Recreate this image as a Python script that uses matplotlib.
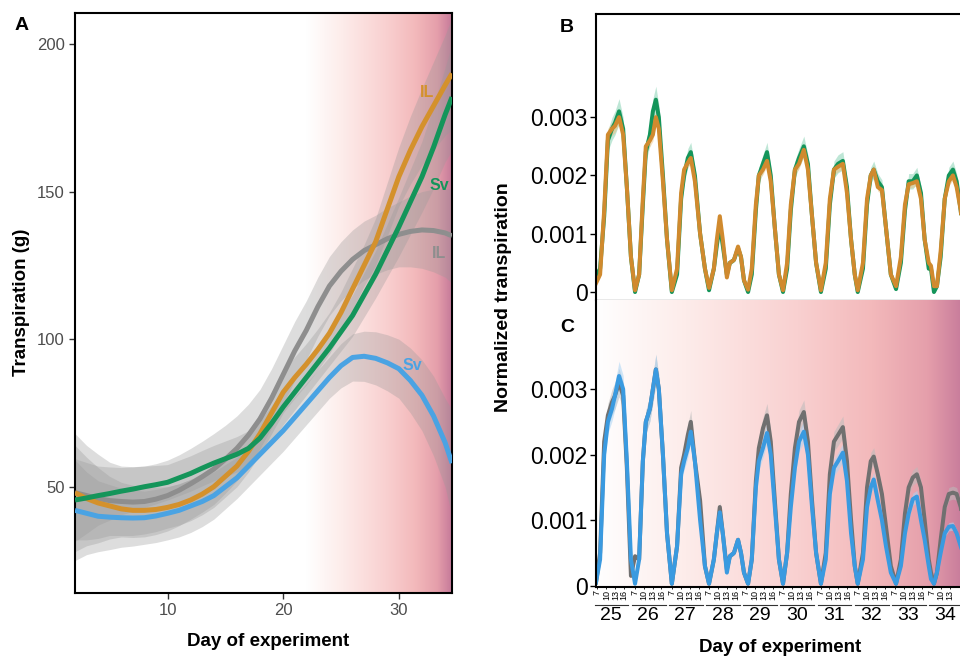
import numpy as np
import matplotlib
matplotlib.use("Agg")
import matplotlib.pyplot as plt
import matplotlib.transforms as mtransforms
from matplotlib.colors import LinearSegmentedColormap

plt.rcParams['font.family'] = ['Liberation Sans', 'DejaVu Sans']

# ---- panel A: smoothed whole-experiment transpiration (g) ----
days_a = [2, 3, 4, 5, 6, 7, 8, 9, 10, 11, 12, 13, 14, 15, 16, 17, 18,
          19, 20, 21, 22, 23, 24, 25, 26, 27, 28, 29, 30, 31, 32, 33, 34, 34.6]
il_orange = [48, 46, 44.5, 43.5, 42.5, 42, 42, 42.3, 43, 44, 45.5, 47.5, 50, 53.5, 57, 62, 68,
             75, 82, 87, 91.5, 96.5, 102, 109, 117, 125, 133, 144, 155, 164, 172, 179, 186, 190]
sv_green = [45.5, 46.2, 47, 47.7, 48.5, 49.2, 50, 50.7, 51.5, 53, 54.5, 56.3, 58, 59.5, 61, 63, 66.5,
            71.5, 77, 82, 87, 92, 97, 102.5, 108, 115, 122, 130, 138, 146.5, 155, 165, 176, 182]
il_grey = [48, 47, 46, 45.3, 45, 44.8, 45, 45.8, 47, 48.8, 51, 53.4, 56, 59.3, 63, 67.5, 73,
           80, 88, 96, 103, 111, 118, 123, 127, 130, 132, 134, 135.5, 136.5, 137, 136.8, 136, 135]
sv_blue = [42, 41, 40, 39.7, 39.5, 39.4, 39.5, 40.1, 41, 42, 43.5, 45, 47, 50, 53, 57, 61,
           65, 69, 73.5, 78, 82.5, 87, 91, 93.8, 94.2, 93.5, 92, 90, 86, 81, 74, 65, 58]
# ribbon half widths
il_orange_se = [16, 14, 12, 10, 9, 8.5, 8, 7.5, 7, 7, 7, 7, 7, 7, 7, 7, 7,
                7, 7, 7, 7, 7, 7, 7, 7, 7, 8, 9, 10, 11.5, 13, 15, 17, 19]
sv_green_se = [14, 12, 10, 9, 8, 7.5, 7, 6.5, 6, 6, 6, 6, 6, 6, 6, 6, 6,
               6, 6, 6, 6, 6, 6, 6.5, 7, 7.5, 8, 9, 10, 11, 12, 14, 16, 18]
il_grey_se = [20, 17, 15, 13, 12, 12, 12, 12, 12, 12, 12, 12, 12, 11.5, 11, 10.5, 10,
              10, 10, 10, 10, 10, 10, 10, 10, 10, 10, 10.5, 11, 12, 13, 14, 15, 16]
sv_blue_se = [17, 14, 12, 11, 10, 9.5, 9, 9, 9, 9, 9, 8.5, 8, 7.5, 7, 7, 7,
              7, 7, 7, 7, 7, 7, 7.5, 8, 8.5, 9, 9.5, 10, 11, 12, 13.5, 15, 18]

# ---- panels B and C: normalized transpiration, days 25-35 ----
t_day = [25.08, 25.19, 25.30, 25.40, 25.51, 25.59, 25.70, 25.81, 25.91, 26.02,
         26.13, 26.24, 26.34, 26.42, 26.53, 26.61, 26.69, 26.77, 26.88, 26.99,
         27.12, 27.26, 27.37, 27.45, 27.55, 27.63, 27.74, 27.88, 28.01, 28.12,
         28.25, 28.33, 28.41, 28.49, 28.60, 28.68, 28.79, 28.90, 28.98, 29.06,
         29.17, 29.27, 29.38, 29.46, 29.57, 29.68, 29.78, 29.89, 30.00, 30.11,
         30.22, 30.32, 30.43, 30.54, 30.67, 30.78, 30.89, 31.00, 31.13, 31.26,
         31.37, 31.48, 31.59, 31.72, 31.83, 31.94, 32.04, 32.12, 32.26, 32.37,
         32.47, 32.55, 32.66, 32.77, 32.88, 33.01, 33.15, 33.28, 33.39, 33.49,
         33.60, 33.71, 33.82, 33.92, 34.03, 34.09, 34.17, 34.25, 34.35, 34.46,
         34.57, 34.68, 34.78, 34.89, 35.00]

b_il = [0.00015, 0.0003, 0.0014, 0.0027, 0.0028, 0.00285, 0.0030, 0.0027, 0.0018, 0.0006,
        0.00003, 0.0003, 0.0016, 0.0025, 0.0026, 0.0027, 0.0030, 0.0028, 0.0019, 0.0009,
        0.00003, 0.0004, 0.0017, 0.0021, 0.00222, 0.0023, 0.0019, 0.0010, 0.0004, 0.00007,
        0.0004, 0.0009, 0.0013, 0.0009, 0.00025, 0.0005, 0.00055, 0.00078, 0.0006, 0.0002,
        0.00004, 0.0004, 0.0015, 0.0020, 0.0021, 0.00225, 0.0019, 0.0011, 0.0003, 0.00003,
        0.0005, 0.0015, 0.0021, 0.0022, 0.00244, 0.0021, 0.0013, 0.0005, 0.00003, 0.0005,
        0.0016, 0.0021, 0.00215, 0.0022, 0.0017, 0.0009, 0.0003, 0.00003, 0.0005, 0.0016,
        0.0020, 0.0021, 0.0018, 0.00175, 0.0011, 0.0003, 0.0001, 0.0006, 0.0015, 0.00185,
        0.00187, 0.0019, 0.0016, 0.0009, 0.0005, 0.00045, 0.0001, 0.0001, 0.0007, 0.0016,
        0.0019, 0.0020, 0.0018, 0.0014, 0.0007]
b_sv = [0.00028, 0.0004, 0.0013, 0.0026, 0.0028, 0.0029, 0.0031, 0.0028, 0.0018, 0.0006,
        0.0, 0.0003, 0.0015, 0.0024, 0.0027, 0.0031, 0.0033, 0.0030, 0.0020, 0.0009,
        0.0, 0.0003, 0.0016, 0.0020, 0.0023, 0.0024, 0.0020, 0.0010, 0.0004, 0.00003,
        0.0004, 0.0008, 0.00115, 0.0008, 0.0003, 0.0005, 0.00055, 0.00075, 0.0006, 0.0002,
        0.0, 0.0003, 0.0014, 0.0020, 0.0022, 0.0024, 0.0020, 0.0011, 0.0003, 0.0,
        0.0004, 0.0014, 0.0021, 0.0023, 0.0025, 0.0022, 0.0013, 0.0005, 0.0, 0.0004,
        0.0015, 0.0021, 0.0022, 0.00225, 0.0018, 0.0009, 0.0003, 0.0, 0.0004, 0.0015,
        0.0020, 0.0021, 0.0019, 0.0018, 0.0011, 0.0003, 0.00005, 0.0005, 0.0014, 0.0019,
        0.0019, 0.0020, 0.0017, 0.0009, 0.0004, 0.0004, 0.0, 0.0001, 0.0006, 0.0016,
        0.0020, 0.0021, 0.0019, 0.0014, 0.0007]

c_il = [0.00005, 0.0005, 0.0022, 0.0026, 0.0028, 0.0029, 0.0031, 0.0029, 0.0018, 0.00015,
        0.00045, 0.0004, 0.0019, 0.0025, 0.0027, 0.0030, 0.0033, 0.0030, 0.0020, 0.0008,
        0.00003, 0.0006, 0.0018, 0.0020, 0.0023, 0.0025, 0.0019, 0.0013, 0.0003, 0.00003,
        0.0004, 0.0008, 0.0012, 0.0008, 0.00025, 0.00045, 0.0005, 0.0007, 0.0005, 0.0002,
        0.00003, 0.0004, 0.0016, 0.0021, 0.0024, 0.0026, 0.0022, 0.0013, 0.0004, 0.00003,
        0.0005, 0.0014, 0.0021, 0.0025, 0.00265, 0.0022, 0.0013, 0.0005, 0.00003, 0.0005,
        0.0017, 0.0022, 0.0023, 0.00242, 0.0019, 0.0010, 0.0003, 0.00003, 0.0005, 0.0015,
        0.0019, 0.00197, 0.0017, 0.0014, 0.0009, 0.0003, 0.00003, 0.0004, 0.0011, 0.0015,
        0.00165, 0.0017, 0.0015, 0.0010, 0.0004, 0.0002, 0.00003, 0.0002, 0.0007, 0.0012,
        0.0014, 0.00142, 0.0014, 0.0012, 0.0008]
c_sv = [0.00005, 0.0004, 0.0020, 0.0025, 0.0027, 0.0029, 0.0032, 0.0030, 0.0019, 0.0004,
        0.00003, 0.0004, 0.0019, 0.0025, 0.0027, 0.0030, 0.0033, 0.0030, 0.0020, 0.0008,
        0.00003, 0.0006, 0.0017, 0.0019, 0.0021, 0.00235, 0.0019, 0.0010, 0.0003, 0.00003,
        0.0004, 0.0008, 0.00112, 0.0008, 0.0002, 0.00045, 0.0005, 0.0007, 0.0005, 0.0002,
        0.00003, 0.0004, 0.0015, 0.0019, 0.0021, 0.00233, 0.0020, 0.0012, 0.0004, 0.00003,
        0.0005, 0.0012, 0.0018, 0.0022, 0.00235, 0.0020, 0.0012, 0.0005, 0.00003, 0.0004,
        0.0014, 0.0018, 0.0019, 0.00203, 0.0016, 0.0008, 0.0003, 0.00003, 0.0004, 0.0012,
        0.0015, 0.00162, 0.0013, 0.0010, 0.0006, 0.0002, 0.00003, 0.0003, 0.0008, 0.0011,
        0.00132, 0.00136, 0.0010, 0.0007, 0.0003, 0.0001, 0.00003, 0.0002, 0.0005, 0.0008,
        0.0009, 0.00091, 0.0008, 0.0006, 0.0004]

exp_days = [25, 26, 27, 28, 29, 30, 31, 32, 33, 34]
hour_labels = ["7", "10", "13", "16"]

col_orange = "#D4912C"
col_green = "#14955A"
col_grey = "#8E8E8E"
col_blue = "#4AA3E3"

heat = LinearSegmentedColormap.from_list(
    "heat", [(0, "#ffffff"), (0.25, "#fdecea"), (0.55, "#f9d0d0"),
             (0.75, "#f3b9bb"), (0.9, "#e59fab"), (1.0, "#c67a9a")])
grad = np.linspace(0, 1, 256).reshape(1, -1)

fig = plt.figure(figsize=(9.6, 6.59), dpi=100)
W, H = 960, 659

# ================= A =================
ax = fig.add_axes([75 / W, 1 - 593 / H, 377 / W, 580 / H])
ax.set_xlim(2, 34.6)
ax.set_ylim(14, 210.5)
ax.imshow(grad, cmap=heat, aspect="auto", extent=[22, 34.6, 14, 210.5], zorder=0)

series_a = [(il_grey, il_grey_se, col_grey),
            (il_orange, il_orange_se, col_orange),
            (sv_blue, sv_blue_se, col_blue),
            (sv_green, sv_green_se, col_green)]
x_a = np.array(days_a)
for vals, se, c in series_a:
    v = np.array(vals)
    s = np.array(se)
    ax.fill_between(x_a, v - s, v + s, color="#999999", alpha=0.33, lw=0, zorder=1)
for vals, se, c in series_a:
    ax.plot(x_a, vals, color=c, lw=3.6, solid_capstyle="butt", solid_joinstyle="round", zorder=3)

lab_kw = dict(fontsize=11.5, fontweight="bold", ha="center", va="center", zorder=4)
ax.text(32.4, 183.5, "IL", color=col_orange, **lab_kw)
ax.text(33.5, 152, "Sv", color=col_green, **lab_kw)
ax.text(33.5, 129, "IL", color=col_grey, **lab_kw)
ax.text(31.2, 91, "Sv", color=col_blue, **lab_kw)

ax.set_xticks([10, 20, 30])
ax.set_yticks([50, 100, 150, 200])
ax.tick_params(direction="out", length=4, width=1, color="#333333",
               labelcolor="#4d4d4d", labelsize=12)
for sp in ax.spines.values():
    sp.set_linewidth(1.5)
    sp.set_color("black")

fig.text(268 / W, 1 - 641 / H, "Day of experiment", fontsize=13.5,
         fontweight="bold", ha="center", va="center")
fig.text(22 / W, 1 - 302 / H, "Transpiration (g)", fontsize=13.5,
         fontweight="bold", ha="center", va="center", rotation=90)
fig.text(22 / W, 1 - 26 / H, "A", fontsize=14, fontweight="bold", ha="center", va="center")

# ================= B =================
t = np.array(t_day)
x0, x1 = 25.08, 36.0
axb = fig.add_axes([596 / W, 1 - 300 / H, 406 / W, 286 / H])
axb.set_xlim(x0, x1)
axb.set_ylim(-0.000137, 0.00477)
for vals, c, fc, rel in [(b_sv, col_green, "#7fcfae", 0.07), (b_il, "#D08A2E", "#f0c080", 0.04)]:
    v = np.array(vals)
    axb.fill_between(t, v * (1 - rel), v * (1 + rel), color=fc, alpha=0.5, lw=0)
for vals, c in [(b_sv, col_green), (b_il, "#D08A2E")]:
    axb.plot(t, vals, color=c, lw=2.9, solid_joinstyle="round")

axb.set_xticks([])
axb.set_yticks([0, 0.001, 0.002, 0.003])
axb.set_yticklabels(["0", "0.001", "0.002", "0.003"])
axb.tick_params(axis="y", direction="out", length=4, width=1, labelsize=16.5, pad=2)
axb.spines["right"].set_visible(False)
axb.spines["left"].set_linewidth(1.5)
axb.spines["top"].set_linewidth(1.5)
axb.spines["bottom"].set_linewidth(0.9)
axb.spines["bottom"].set_color("#555555")
fig.text(567 / W, 1 - 27 / H, "B", fontsize=14, fontweight="bold", ha="center", va="center")

# ================= C =================
axc = fig.add_axes([596 / W, 1 - 587 / H, 406 / W, 287 / H])
axc.set_xlim(x0, x1)
axc.set_ylim(-0.00002, 0.00436)
axc.imshow(grad, cmap=heat, aspect="auto", extent=[25.0, 35.0, -0.00002, 0.00436], zorder=0)
axc.axvspan(35.0, x1, color="#c67a9a", lw=0, zorder=0)
for vals, c, fc, rel in [(c_il, "#707070", "#bbbbbb", 0.07), (c_sv, "#3A9AE0", "#aad4f5", 0.07)]:
    v = np.array(vals)
    axc.fill_between(t, v * (1 - rel), v * (1 + rel), color=fc, alpha=0.55, lw=0, zorder=1)
for vals, c in [(c_il, "#707070"), (c_sv, "#3A9AE0")]:
    axc.plot(t, vals, color=c, lw=2.9, solid_joinstyle="round", zorder=2)

axc.set_yticks([0, 0.001, 0.002, 0.003])
axc.set_yticklabels(["0", "0.001", "0.002", "0.003"])
axc.tick_params(axis="y", direction="out", length=4, width=1, labelsize=16.5, pad=2)

hour_pos = []
hour_txt = []
for d in exp_days:
    for k, h in enumerate(hour_labels):
        p = d + 0.12 + 0.24 * k
        if p < 34.8:
            hour_pos.append(p)
            hour_txt.append(h)
axc.set_xticks(hour_pos)
axc.set_xticklabels(hour_txt, rotation=90, fontsize=6.5)
axc.tick_params(axis="x", direction="out", length=1.5, width=0.6, pad=0.5)

trans = mtransforms.blended_transform_factory(axc.transData, axc.transAxes)
for d in exp_days:
    axc.plot([d + 0.04, d + 0.95], [-0.063, -0.063], color="#333333", lw=0.8,
             transform=trans, clip_on=False)
    axc.text(d + 0.48, -0.098, str(d), transform=trans, ha="center", va="center",
             fontsize=14, clip_on=False)

axc.spines["right"].set_visible(False)
axc.spines["top"].set_visible(False)
axc.spines["left"].set_linewidth(1.5)
axc.spines["bottom"].set_linewidth(1.5)
fig.text(567 / W, 1 - 327 / H, "C", fontsize=14, fontweight="bold", ha="center", va="center")

fig.text(780 / W, 1 - 648 / H, "Day of experiment", fontsize=13.5,
         fontweight="bold", ha="center", va="center")
fig.text(503 / W, 1 - 297 / H, "Normalized transpiration", fontsize=14,
         fontweight="bold", ha="center", va="center", rotation=90)

fig.savefig("out.png", dpi=100)
